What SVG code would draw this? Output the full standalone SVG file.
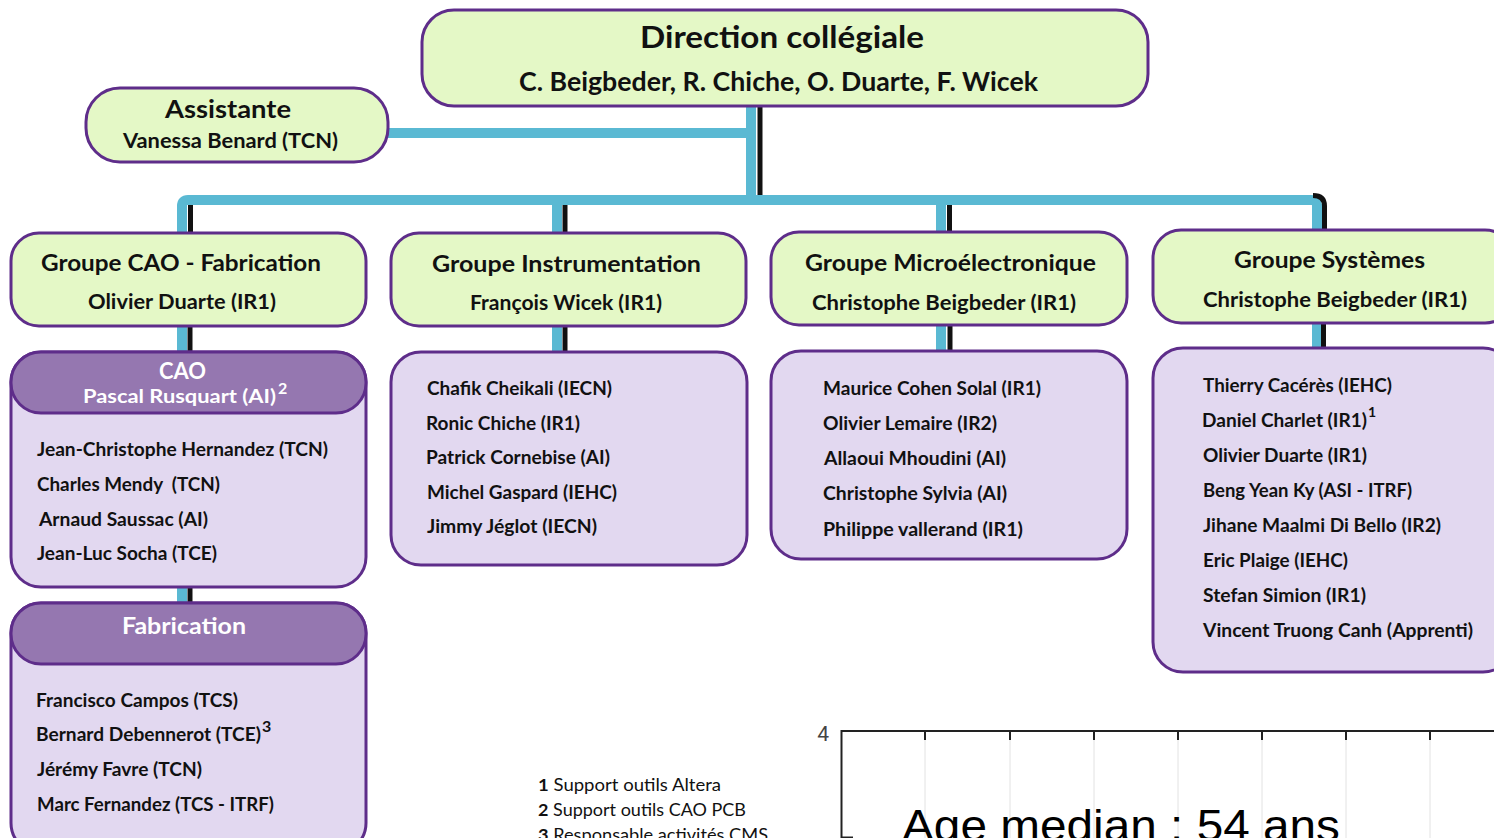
<svg xmlns="http://www.w3.org/2000/svg" width="1494" height="838" viewBox="0 0 1494 838">
<style>
.g{fill:#E4F8C6;stroke:#5E2D8A;stroke-width:3}
.l{fill:#E2D8F0;stroke:#5E2D8A;stroke-width:3}
.h{fill:#9577B0;stroke:#5E2D8A;stroke-width:3}
text{font-family:Lato,"Open Sans","Liberation Sans",sans-serif;font-weight:bold;fill:#111}
.w{fill:#fff}
.it{font-size:18px}
.c{text-anchor:middle}
.cy{stroke:#5AB9D3;stroke-width:10;fill:none}
.bk{stroke:#111;stroke-width:5;fill:none}
.fn{font-weight:normal;font-size:17px}
.ax{font-family:Roboto,"Liberation Sans",sans-serif;font-weight:normal;fill:#444;font-size:21px}
.age{font-family:"Liberation Sans",Arial,sans-serif;font-weight:normal;fill:#000;font-size:44px}
</style>
<rect width="1494" height="838" fill="#fff"/>
<g id="connectors">
<path class="cy" d="M751,106 V200"/>
<path class="bk" d="M760,106 V195"/>
<path class="cy" d="M388,133 H751"/>
<path class="cy" d="M182,233 V206 Q182,200 188,200 H1311 Q1317,200 1317,206 V231"/>
<path class="bk" d="M190.5,205 V233"/>
<path class="bk" d="M1313,195.5 Q1324.5,195.5 1324.5,206 V231"/>
<path class="cy" d="M557,205 V233"/>
<path class="bk" d="M565,205 V233"/>
<path class="cy" d="M941,205 V233"/>
<path class="bk" d="M949.5,205 V233"/>
<path class="cy" d="M182,326 V352"/>
<path class="bk" d="M190,326 V352"/>
<path class="cy" d="M557,326 V352"/>
<path class="bk" d="M565,326 V352"/>
<path class="cy" d="M941,325 V351"/>
<path class="bk" d="M950,325 V351"/>
<path class="cy" d="M1317,323 V348"/>
<path class="bk" d="M1323.5,323 V348"/>
<path class="cy" d="M182,587 V603"/>
<path class="bk" d="M190,587 V603"/>
</g>
<g id="direction">
<rect class="g" x="422" y="10" width="726" height="96" rx="32"/>
<text class="c" x="782" y="48" font-size="31" textLength="284" lengthAdjust="spacingAndGlyphs">Direction collégiale</text>
<text class="c" x="778.5" y="91" font-size="26" textLength="519" lengthAdjust="spacingAndGlyphs">C. Beigbeder, R. Chiche, O. Duarte, F. Wicek</text>
</g>
<g id="assistante">
<rect class="g" x="86" y="88" width="302" height="74" rx="34"/>
<text class="c" x="228" y="118" font-size="25" textLength="126" lengthAdjust="spacingAndGlyphs">Assistante</text>
<text class="c" x="230.5" y="148" font-size="20" textLength="215" lengthAdjust="spacingAndGlyphs">Vanessa Benard (TCN)</text>
</g>
<g id="groupe-cao">
<rect class="g" x="11" y="233" width="355" height="93" rx="28"/>
<text class="c" x="181" y="271" font-size="23" textLength="280" lengthAdjust="spacingAndGlyphs">Groupe CAO - Fabrication</text>
<text class="c" x="182" y="309" font-size="20" textLength="188" lengthAdjust="spacingAndGlyphs">Olivier Duarte (IR1)</text>
</g>
<g id="groupe-instrumentation">
<rect class="g" x="391" y="233" width="355" height="93" rx="28"/>
<text class="c" x="566.5" y="272" font-size="23" textLength="269" lengthAdjust="spacingAndGlyphs">Groupe Instrumentation</text>
<text class="c" x="566" y="310" font-size="20" textLength="192" lengthAdjust="spacingAndGlyphs">François Wicek (IR1)</text>
</g>
<g id="groupe-micro">
<rect class="g" x="771" y="232" width="356" height="93" rx="28"/>
<text class="c" x="950.5" y="271" font-size="23" textLength="291" lengthAdjust="spacingAndGlyphs">Groupe Microélectronique</text>
<text class="c" x="944" y="310" font-size="20" textLength="264" lengthAdjust="spacingAndGlyphs">Christophe Beigbeder (IR1)</text>
</g>
<g id="groupe-systemes">
<rect class="g" x="1153" y="230" width="360" height="93" rx="28"/>
<text class="c" x="1329.5" y="268" font-size="23" textLength="191" lengthAdjust="spacingAndGlyphs">Groupe Systèmes</text>
<text class="c" x="1335" y="307" font-size="20" textLength="264" lengthAdjust="spacingAndGlyphs">Christophe Beigbeder (IR1)</text>
</g>
<g id="cao">
<rect class="l" x="11" y="352" width="355" height="235" rx="30"/>
<rect class="h" x="11" y="352" width="355" height="61" rx="30"/>
<text class="c w" x="182.5" y="379" font-size="22" textLength="47" lengthAdjust="spacingAndGlyphs">CAO</text>
<text class="w" x="83" y="403" font-size="19" textLength="193" lengthAdjust="spacingAndGlyphs">Pascal Rusquart (AI)</text>
<text class="w" x="278" y="394" font-size="16">2</text>
<text class="it" x="37" y="456" textLength="291" lengthAdjust="spacingAndGlyphs">Jean-Christophe Hernandez (TCN)</text>
<text class="it" x="37" y="491" textLength="183" lengthAdjust="spacingAndGlyphs" xml:space="preserve">Charles Mendy  (TCN)</text>
<text class="it" x="39" y="526" textLength="169" lengthAdjust="spacingAndGlyphs">Arnaud Saussac (AI)</text>
<text class="it" x="37" y="560" textLength="180" lengthAdjust="spacingAndGlyphs">Jean-Luc Socha (TCE)</text>
</g>
<g id="fabrication">
<rect class="l" x="11" y="603" width="355" height="250" rx="30"/>
<rect class="h" x="11" y="603" width="355" height="61" rx="30"/>
<text class="c w" x="184" y="634" font-size="23" textLength="124" lengthAdjust="spacingAndGlyphs">Fabrication</text>
<text class="it" x="36" y="707" textLength="202" lengthAdjust="spacingAndGlyphs">Francisco Campos (TCS)</text>
<text class="it" x="36" y="741" textLength="225" lengthAdjust="spacingAndGlyphs">Bernard Debennerot (TCE)</text>
<text x="262" y="732" font-size="16">3</text>
<text class="it" x="37" y="776" textLength="165" lengthAdjust="spacingAndGlyphs">Jérémy Favre (TCN)</text>
<text class="it" x="37" y="811" textLength="237" lengthAdjust="spacingAndGlyphs">Marc Fernandez (TCS - ITRF)</text>
</g>
<g id="instrumentation">
<rect class="l" x="391" y="352" width="356" height="213" rx="30"/>
<text class="it" x="427" y="395" textLength="185" lengthAdjust="spacingAndGlyphs">Chafik Cheikali (IECN)</text>
<text class="it" x="426" y="430" textLength="154" lengthAdjust="spacingAndGlyphs">Ronic Chiche (IR1)</text>
<text class="it" x="426" y="464" textLength="184" lengthAdjust="spacingAndGlyphs">Patrick Cornebise (AI)</text>
<text class="it" x="427" y="499" textLength="190" lengthAdjust="spacingAndGlyphs">Michel Gaspard (IEHC)</text>
<text class="it" x="427" y="533" textLength="170" lengthAdjust="spacingAndGlyphs">Jimmy Jéglot (IECN)</text>
</g>
<g id="microelectronique">
<rect class="l" x="771" y="351" width="356" height="208" rx="30"/>
<text class="it" x="823" y="395" textLength="218" lengthAdjust="spacingAndGlyphs">Maurice Cohen Solal (IR1)</text>
<text class="it" x="823" y="430" textLength="174" lengthAdjust="spacingAndGlyphs">Olivier Lemaire (IR2)</text>
<text class="it" x="824" y="465" textLength="182" lengthAdjust="spacingAndGlyphs">Allaoui Mhoudini (AI)</text>
<text class="it" x="823" y="500" textLength="184" lengthAdjust="spacingAndGlyphs">Christophe Sylvia (AI)</text>
<text class="it" x="823" y="536" textLength="200" lengthAdjust="spacingAndGlyphs">Philippe vallerand (IR1)</text>
</g>
<g id="systemes">
<rect class="l" x="1153" y="348" width="360" height="324" rx="30"/>
<text class="it" x="1203" y="392" textLength="189" lengthAdjust="spacingAndGlyphs">Thierry Cacérès (IEHC)</text>
<text class="it" x="1202" y="427" textLength="165" lengthAdjust="spacingAndGlyphs">Daniel Charlet (IR1)</text>
<text x="1368" y="417" font-size="14">1</text>
<text class="it" x="1203" y="462" textLength="164" lengthAdjust="spacingAndGlyphs">Olivier Duarte (IR1)</text>
<text class="it" x="1203" y="497" textLength="209" lengthAdjust="spacingAndGlyphs">Beng Yean Ky (ASI - ITRF)</text>
<text class="it" x="1203" y="532" textLength="238" lengthAdjust="spacingAndGlyphs">Jihane Maalmi Di Bello (IR2)</text>
<text class="it" x="1203" y="567" textLength="145" lengthAdjust="spacingAndGlyphs">Eric Plaige (IEHC)</text>
<text class="it" x="1203" y="602" textLength="163" lengthAdjust="spacingAndGlyphs">Stefan Simion (IR1)</text>
<text class="it" x="1203" y="637" textLength="270" lengthAdjust="spacingAndGlyphs">Vincent Truong Canh (Apprenti)</text>
</g>
<g id="footnotes">
<text class="fn" x="538" y="791" textLength="183" lengthAdjust="spacingAndGlyphs"><tspan font-weight="bold">1</tspan> Support outils Altera</text>
<text class="fn" x="538" y="816" textLength="208" lengthAdjust="spacingAndGlyphs"><tspan font-weight="bold">2</tspan> Support outils CAO PCB</text>
<text class="fn" x="538" y="841" textLength="230" lengthAdjust="spacingAndGlyphs"><tspan font-weight="bold">3</tspan> Responsable activités CMS</text>
</g>
<g id="chart">
<g stroke="#e2e2e2" stroke-width="1">
<path d="M925,731 V838 M1010,731 V838 M1094,731 V838 M1178,731 V838 M1262,731 V838 M1346,731 V838 M1430,731 V838"/>
</g>
<g stroke="#222" stroke-width="2" fill="none">
<path d="M841,731 H1494"/>
<path d="M841.5,730 V838"/>
<path d="M841,837.5 H853"/>
<path d="M925,731 V740 M1010,731 V740 M1094,731 V740 M1178,731 V740 M1262,731 V740 M1346,731 V740 M1430,731 V740"/>
</g>
<text class="ax" x="829" y="741" text-anchor="end">4</text>
<text class="ax" x="829" y="853" text-anchor="end">3</text>
<text class="age" x="902" y="841" textLength="438" lengthAdjust="spacingAndGlyphs">Age median : 54 ans</text>
</g>
</svg>
